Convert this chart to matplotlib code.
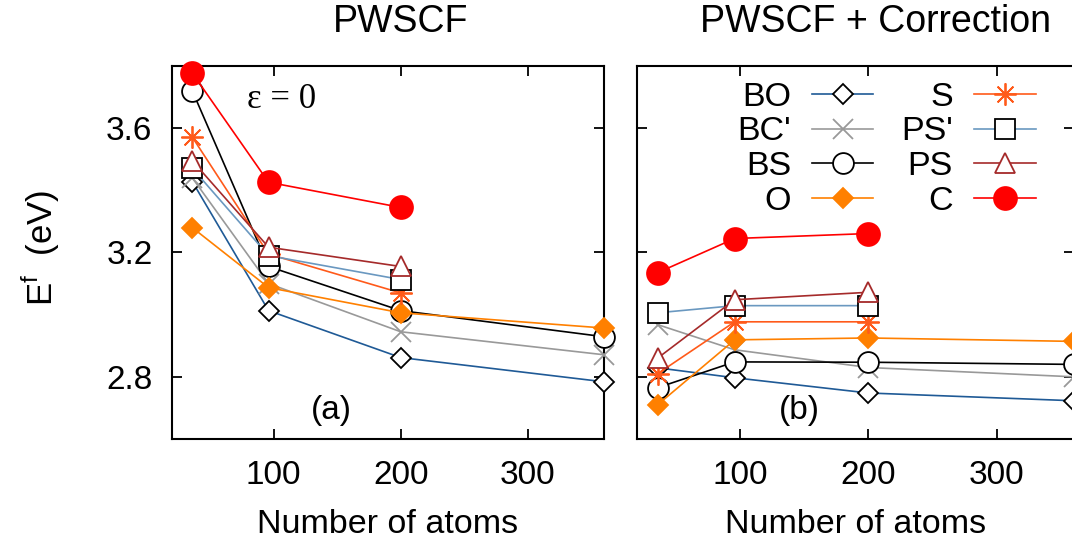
import matplotlib
matplotlib.use("Agg")
import matplotlib.pyplot as plt
from matplotlib.lines import Line2D

plt.rcParams['font.family'] = ['Liberation Sans', 'DejaVu Sans']

# ---------------- data ----------------
atoms_full = [36, 96, 200, 360]
atoms_short = [36, 96, 200]

labels = ["BO", "BC'", "BS", "O", "S", "PS'", "PS", "C"]

# Panel (a): PWSCF
pw_BO = [3.428, 3.013, 2.862, 2.784]
pw_BCp = [3.44, 3.10, 2.945, 2.871]
pw_BS = [3.72, 3.155, 3.013, 2.929]
pw_O = [3.28, 3.087, 3.006, 2.957]
pw_S = [3.571, 3.195, 3.07]
pw_PSp = [3.471, 3.19, 3.113]
pw_PS = [3.495, 3.217, 3.155]
pw_C = [3.777, 3.426, 3.345]

# Panel (b): PWSCF + Correction
co_BO = [2.829, 2.797, 2.748, 2.723]
co_BCp = [2.968, 2.887, 2.83, 2.80]
co_BS = [2.765, 2.848, 2.847, 2.84]
co_O = [2.71, 2.919, 2.925, 2.914]
co_S = [2.81, 2.977, 2.977]
co_PSp = [3.006, 3.029, 3.029]
co_PS = [2.86, 3.048, 3.072]
co_C = [3.135, 3.245, 3.261]

xticks = [100, 200, 300]
yticks = [2.8, 3.2, 3.6]

# ---------------- styles ----------------
styles = {
    "BO":  dict(color="#1f5a96", marker="D", ms=10.5, mfc="white", mec="black"),
    "BC'": dict(color="#999999", marker="x", ms=15, mfc="none", mec="#999999"),
    "BS":  dict(color="black", marker="o", ms=15, mfc="white", mec="black"),
    "O":   dict(color="#ff8000", marker="D", ms=10.5, mfc="#ff8000", mec="#ff8000"),
    "S":   dict(color="#ff5a1a", marker=(8, 2, 0), ms=16, mfc="none", mec="#ff5a1a"),
    "PS'": dict(color="#6a98c0", marker="s", ms=14.5, mfc="white", mec="black"),
    "PS":  dict(color="#a52a2a", marker="^", ms=14, mfc="white", mec="#a52a2a"),
    "C":   dict(color="#ff0000", marker="o", ms=16.5, mfc="#ff0000", mec="#ff0000"),
}

W, H = 1072, 539
fig = plt.figure(figsize=(W / 100, H / 100), dpi=100)

def ax_rect(x0, x1, y0, y1):
    return [x0 / W, 1 - y1 / H, (x1 - x0) / W, (y1 - y0) / H]

axL = fig.add_axes(ax_rect(172, 604, 66, 439))
axR = fig.add_axes(ax_rect(637, 1074, 66, 439))

panelL = [(atoms_full, pw_BO), (atoms_full, pw_BCp), (atoms_full, pw_BS), (atoms_full, pw_O),
          (atoms_short, pw_S), (atoms_short, pw_PSp), (atoms_short, pw_PS), (atoms_short, pw_C)]
panelR = [(atoms_full, co_BO), (atoms_full, co_BCp), (atoms_full, co_BS), (atoms_full, co_O),
          (atoms_short, co_S), (atoms_short, co_PSp), (atoms_short, co_PS), (atoms_short, co_C)]

for ax, panel in ((axL, panelL), (axR, panelR)):
    for i, (lab, (xs, ys)) in enumerate(zip(labels, panel)):
        st = styles[lab]
        ax.plot(xs, ys, color=st["color"], lw=1.2, marker=st["marker"], ms=st["ms"],
                mfc=st["mfc"], mec=st["mec"], mew=1.3, clip_on=False, zorder=3 + i)
    ax.set_xlim(20, 360)
    ax.set_ylim(2.6, 3.8)
    ax.set_xticks(xticks)
    ax.set_yticks(yticks)
    ax.tick_params(direction="in", length=7, width=1.3, top=True, right=True,
                   labelsize=24, pad=14)
    ax.tick_params(axis="x", pad=15)
    for sp in ax.spines.values():
        sp.set_linewidth(1.5)

axL.set_yticklabels([f"{v:.1f}" for v in yticks])
axR.set_yticklabels([])
axL.set_xticklabels([str(v) for v in xticks])
axR.set_xticklabels([str(v) for v in xticks])

axL.set_xlabel("Number of atoms", fontsize=24.5, labelpad=13)
axR.set_xlabel("Number of atoms", fontsize=24.5, labelpad=13)

fig.text(401 / W, 1 - 22 / H, "PWSCF", fontsize=27, ha="center", va="center")
fig.text(876 / W, 1 - 22 / H, "PWSCF + Correction", fontsize=27, ha="center", va="center")
fig.text(40 / W, 1 - 248 / H, r"E$^{\mathregular{f}}$  (eV)", fontsize=25, rotation=90,
         ha="center", va="center")

fig.text(282 / W, 1 - 99 / H, "ε = 0", fontsize=25, ha="center", va="center",
         family=["Liberation Serif", "DejaVu Serif"])
fig.text(331 / W, 1 - 410 / H, "(a)", fontsize=24, ha="center", va="center")
fig.text(799 / W, 1 - 410 / H, "(b)", fontsize=24, ha="center", va="center")

# ---------------- legend (gnuplot style: right-aligned label, then sample) ----------------
rows_y = [94, 128.5, 163, 197.5]
cols = [(791, 812, 873, 843), (953, 974, 1036, 1005)]
for i, lab in enumerate(labels):
    c = i // 4
    r = i % 4
    tx, lx0, lx1, mx = cols[c]
    py = 1 - rows_y[r] / H
    st = styles[lab]
    fig.text(tx / W, py, lab, fontsize=24.5, ha="right", va="center_baseline")
    fig.add_artist(Line2D([lx0 / W, lx1 / W], [py, py], color=st["color"], lw=1.2,
                          transform=fig.transFigure, zorder=5))
    fig.add_artist(Line2D([mx / W], [py], marker=st["marker"], ms=st["ms"], mfc=st["mfc"],
                          mec=st["mec"], mew=1.3, linestyle="none",
                          transform=fig.transFigure, zorder=6))

fig.savefig("out.png", dpi=100)
